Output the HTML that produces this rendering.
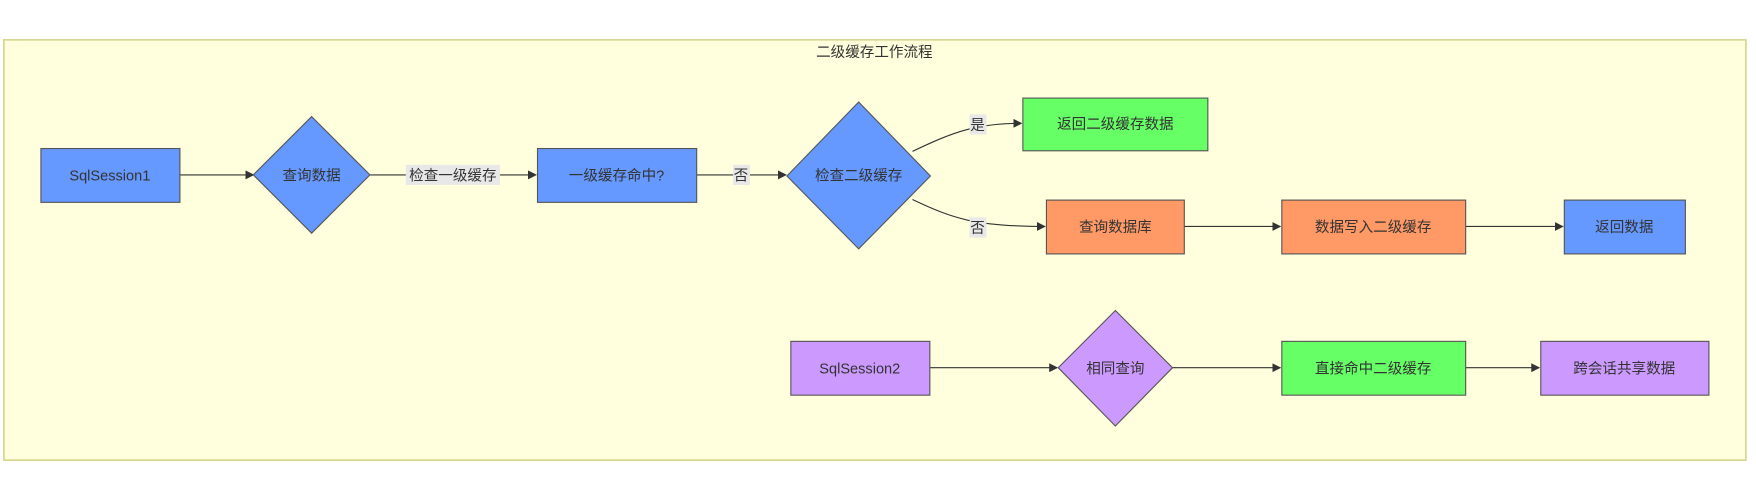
<!DOCTYPE html>
<html><head><meta charset="utf-8"><style>
html,body{margin:0;padding:0;background:#fff;width:1756px;height:477px;overflow:hidden}
svg{display:block}
text{font-family:"Liberation Sans","Noto Sans CJK SC",sans-serif;font-size:13px;fill:#333}
</style></head><body>
<svg width="1756" height="477" viewBox="0 0 1566.5 425.5" preserveAspectRatio="none" xmlns="http://www.w3.org/2000/svg">
<defs><marker id="a" markerWidth="8" markerHeight="8" refX="7" refY="4" orient="auto"><path d="M0,0L8,4L0,8z" fill="#333"/></marker></defs>
<rect x="3.5" y="35.5" width="1554" height="375" fill="#ffffde" stroke="#d6d68e" stroke-width="1.5"/>
<text x="780" y="51" text-anchor="middle">二级缓存工作流程</text>
<g stroke="#333" stroke-width="1" fill="none" marker-end="url(#a)">
<path d="M160,156H226"/>
<path d="M330,156H478"/>
<path d="M621,156H701"/>
<path d="M814,135C850,118 870,110 911,110"/>
<path d="M814,178C850,195 870,202 932,202"/>
<path d="M1056,202H1142"/>
<path d="M1307,202H1394"/>
<path d="M829,328H943"/>
<path d="M1046,328H1142"/>
<path d="M1307,328H1373"/>
</g>
<g stroke="#555" stroke-width="1">
<rect x="36.5" y="132.5" width="124" height="48" fill="#6699ff"/>
<polygon points="278,104 330,156 278,208 226,156" fill="#6699ff"/>
<rect x="479.5" y="132.5" width="142" height="48" fill="#6699ff"/>
<polygon points="766,91 830,157 766,222 702,157" fill="#6699ff"/>
<rect x="912.5" y="87.5" width="165" height="47" fill="#66ff66"/>
<rect x="933.5" y="178.5" width="123" height="48" fill="#ff9966"/>
<rect x="1143.5" y="178.5" width="164" height="48" fill="#ff9966"/>
<rect x="1395.5" y="178.5" width="108" height="48" fill="#6699ff"/>
<rect x="705.5" y="304.5" width="124" height="48" fill="#cc99ff"/>
<polygon points="995,277 1046,328 995,380 944,328" fill="#cc99ff"/>
<rect x="1143.5" y="304.5" width="164" height="48" fill="#66ff66"/>
<rect x="1374.5" y="304.5" width="150" height="48" fill="#cc99ff"/>
</g>
<g fill="#e8e8e8">
<rect x="362" y="147" width="84" height="18"/>
<rect x="654" y="147" width="15" height="18"/>
<rect x="865" y="102" width="15" height="18"/>
<rect x="865" y="194" width="15" height="18"/>
</g>
<g text-anchor="middle">
<text x="98" y="161">SqlSession1</text>
<text x="278" y="161">查询数据</text>
<text x="404" y="161">检查一级缓存</text>
<text x="550" y="161">一级缓存命中?</text>
<text x="661" y="161">否</text>
<text x="766" y="161">检查二级缓存</text>
<text x="872" y="116">是</text>
<text x="872" y="208">否</text>
<text x="995" y="115">返回二级缓存数据</text>
<text x="995" y="207">查询数据库</text>
<text x="1225" y="207">数据写入二级缓存</text>
<text x="1449" y="207">返回数据</text>
<text x="767" y="333">SqlSession2</text>
<text x="995" y="333">相同查询</text>
<text x="1225" y="333">直接命中二级缓存</text>
<text x="1449" y="333">跨会话共享数据</text>
</g>
</svg>
</body></html>
